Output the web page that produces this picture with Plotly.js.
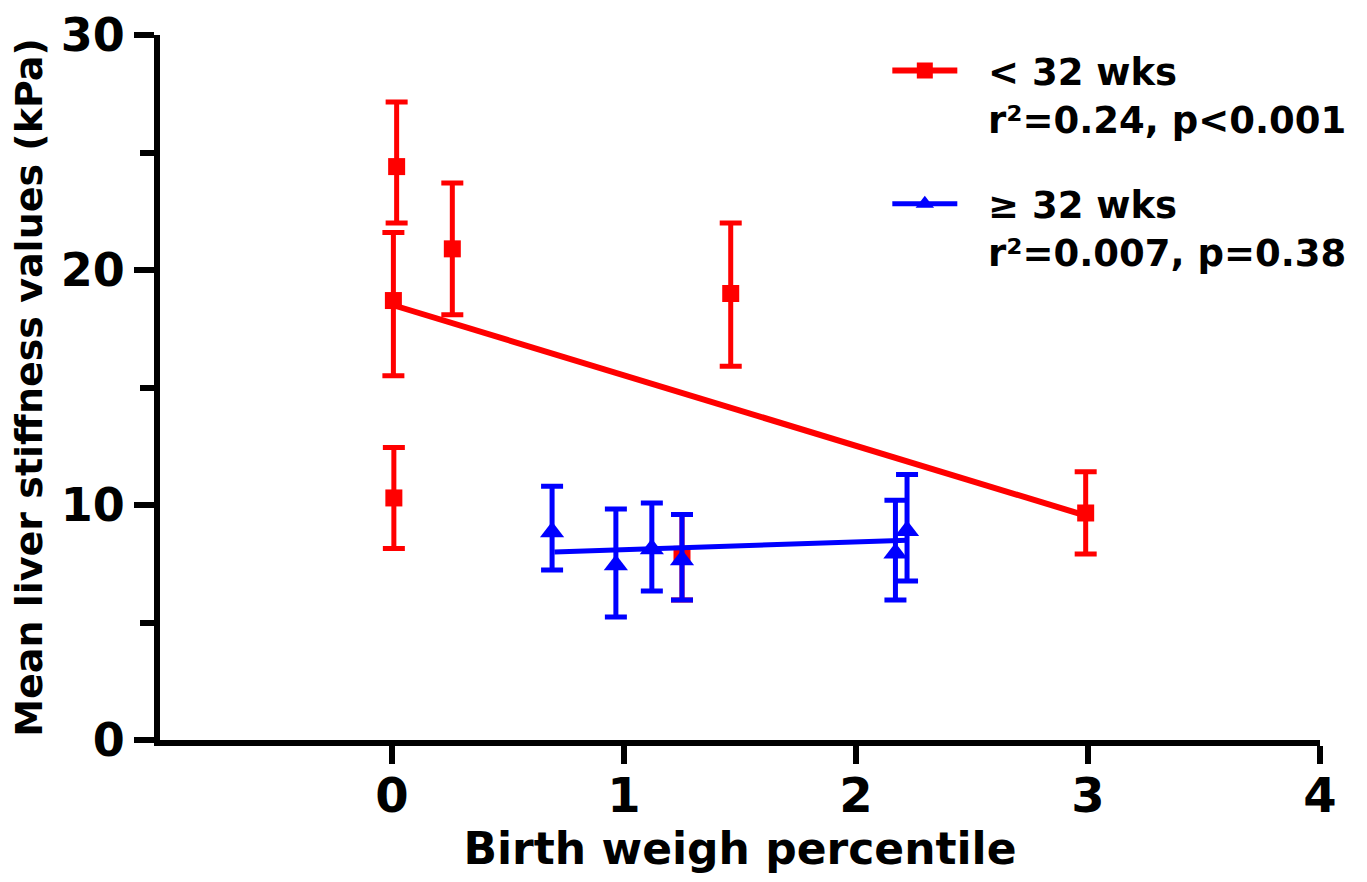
<!DOCTYPE html>
<html><head><meta charset="utf-8">
<script src="https://cdn.plot.ly/plotly-3.0.1.min.js"></script>
<style>html,body{margin:0;padding:0;background:#fff}#chart{width:1367px;height:882px}</style>
</head><body><div id="chart"></div>
<script>
// < 32 wks group (red squares)
const preX = [0.02, 0.006, 0.008, 0.26, 1.46, 2.99, 1.25];
const preY = [24.4, 18.7, 10.3, 20.9, 19.0, 9.66, 7.9];
const preErrUp = [2.75, 2.9, 2.15, 2.8, 3.0, 1.75, 1.7];
const preErrDown = [2.4, 3.2, 2.15, 2.8, 3.1, 1.75, 1.94];
// >= 32 wks group (blue triangles)
const termX = [0.69, 0.965, 1.12, 1.25, 2.17, 2.22];
const termY = [8.85, 7.45, 8.13, 7.66, 7.95, 8.9];
const termErrUp = [1.95, 2.38, 1.95, 1.94, 2.25, 2.4];
const termErrDown = [1.62, 2.22, 1.79, 1.7, 1.99, 2.13];
// regression lines (fitted end points)
const preFitX = [0.006, 2.99];
const preFitY = [18.5, 9.55];
const termFitX = [0.7, 2.22];
const termFitY = [8.0, 8.5];
// legend labels
const preLabel = '&nbsp;&nbsp;&lt; 32 wks<br>&nbsp;&nbsp;r²=0.24, p&lt;0.001';
const termLabel = '&nbsp;&nbsp;≥ 32 wks<br>&nbsp;&nbsp;r²=0.007, p=0.38';
// axes
const xTicks = [0, 1, 2, 3, 4];
const yTicks = [0, 10, 20, 30];
const xTitle = 'Birth weigh percentile';
const yTitle = 'Mean liver stiffness values (kPa)';

const RED = '#ff0000', BLUE = '#0000ff';
const FONT = 'DejaVu Sans, Liberation Sans, Arial, sans-serif';

const traces = [
  {x: preFitX, y: preFitY, mode: 'lines', line: {color: RED, width: 6}, showlegend: false, hoverinfo: 'skip'},
  {x: preX, y: preY, mode: 'markers', showlegend: false,
   marker: {symbol: 'square', size: 17, color: RED},
   error_y: {type: 'data', symmetric: false, array: preErrUp, arrayminus: preErrDown, color: RED, thickness: 5, width: 11}},
  {x: termFitX, y: termFitY, mode: 'lines', line: {color: BLUE, width: 5}, showlegend: false, hoverinfo: 'skip'},
  {x: termX, y: termY, mode: 'markers', showlegend: false,
   marker: {symbol: 'triangle-up', size: 21, color: BLUE},
   error_y: {type: 'data', symmetric: false, array: termErrUp, arrayminus: termErrDown, color: BLUE, thickness: 5, width: 11}},
  {x: [null], y: [null], mode: 'lines+markers', name: preLabel, legendgroup: 'a',
   line: {color: RED, width: 6}, marker: {symbol: 'square', size: 17, color: RED}},
  {x: [null], y: [null], mode: 'lines+markers', name: termLabel, legendgroup: 'b',
   line: {color: BLUE, width: 5}, marker: {symbol: 'triangle-up', size: 21, color: BLUE}}
];

const layout = {
  width: 1367, height: 882,
  margin: {l: 160, r: 47, t: 35, b: 142},
  paper_bgcolor: '#fff', plot_bgcolor: '#fff',
  font: {family: FONT, color: '#000', weight: 'bold'},
  showlegend: true,
  legend: {x: 0.627, y: 0.993, xanchor: 'left', yanchor: 'top', valign: 'top',
    font: {family: FONT, size: 37, color: '#000', weight: 'bold'},
    itemwidth: 65, tracegroupgap: 34, bgcolor: 'rgba(0,0,0,0)', traceorder: 'grouped'},
  xaxis: {range: [-1, 4], tickvals: xTicks, ticktext: xTicks.map(String),
    showgrid: false, zeroline: false, showline: true, linecolor: '#000', linewidth: 6,
    ticks: 'outside', ticklen: 18, tickwidth: 6, tickcolor: '#000', ticklabelstandoff: -10,
    tickfont: {family: FONT, size: 48, color: '#000', weight: 'bold'},
    title: {text: xTitle, font: {family: FONT, size: 44, color: '#000', weight: 'bold'}, standoff: 4},
    automargin: false, fixedrange: true},
  yaxis: {range: [0, 30], tickvals: yTicks, ticktext: yTicks.map(String),
    showgrid: false, zeroline: false, showline: true, linecolor: '#000', linewidth: 6,
    ticks: 'outside', ticklen: 20, tickwidth: 6, tickcolor: '#000',
    minor: {dtick: 5, ticks: 'outside', ticklen: 14, tickwidth: 6, tickcolor: '#000', showgrid: false},
    tickfont: {family: FONT, size: 46, color: '#000', weight: 'bold'},
    title: {text: yTitle, font: {family: FONT, size: 38, color: '#000', weight: 'bold'}, standoff: 8},
    automargin: false, fixedrange: true}
};

Plotly.newPlot('chart', traces, layout, {displayModeBar: false, staticPlot: true});
</script>
</body></html>
